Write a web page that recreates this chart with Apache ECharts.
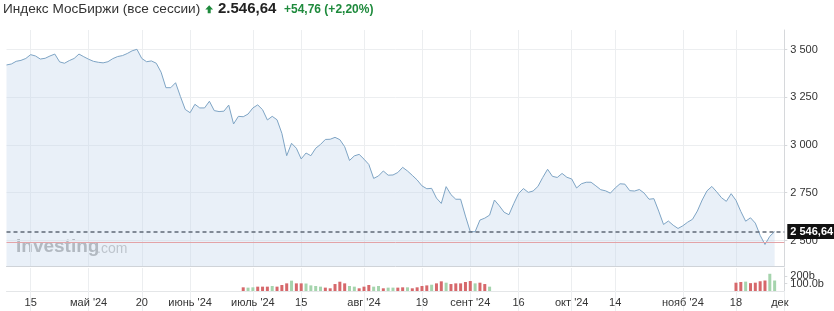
<!DOCTYPE html>
<html><head><meta charset="utf-8">
<script src="https://cdn.jsdelivr.net/npm/echarts@6/dist/echarts.min.js"></script>
<style>html,body{margin:0;padding:0;background:#fff;overflow:hidden}#c{width:834px;height:311px}</style>
</head><body><div id="c"></div>
<script>
// ---- trading days (categories) ----
const tradingDays = [
 ['2024-04', [8,9,10,11,12,15,16,17,18,19,22,23,24,25,26,29,30]],
 ['2024-05', [1,2,3,6,7,8,13,14,15,16,17,20,21,22,23,24,27,28,29,30,31]],
 ['2024-06', [3,4,5,6,7,10,11,13,14,17,18,19,20]],
 ['2024-07', [1,2,3,4,5,8,9,10,11,12,15,16,17,18,19,22,23,24,25,26,29,30,31]],
 ['2024-08', [1,2,5,6,7,8,9,12,13,14,15,16,19,20,21,22,23,26,27,28,29,30]],
 ['2024-09', [2,3,4,5,6,9,10,11,12,13,16,17,18,19,20,23,24,25,26,27,30]],
 ['2024-10', [1,2,3,4,7,8,9,10,11,14,15,16,17,18,21,22,23,24,25,28,29,30,31]],
 ['2024-11', [1,2,5,6,7,8,11,12,13,14,15,18,19,20,21,22,25,26,27,28,29]],
 ['2024-12', [2]]
];
const categories = [];
tradingDays.forEach(([m, ds]) => ds.forEach(d => categories.push(m + '-' + String(d).padStart(2, '0'))));

// ---- x tick labels ----
const tickDates  = ['2024-04-15','2024-05-01','2024-05-20','2024-06-03','2024-07-01','2024-07-15','2024-08-01','2024-08-19','2024-09-02','2024-09-16','2024-10-01','2024-10-14','2024-11-01','2024-11-18','2024-12-02'];
const tickLabels = ['15',"май '24",'20',"июнь '24","июль '24",'15',"авг '24",'19',"сент '24",'16',"окт '24",'14',"нояб '24",'18','дек'];

// ---- index close values ----
const closes = [
 3419,3424,3438,3443,3453,3473,3466,3450,3454,3466,
 3476,3435,3428,3442,3453,3476,3462,3449,3438,3433,
 3430,3436,3452,3463,3468,3479,3493,3501,3453,3436,
 3440,3428,3381,3300,3300,3326,3254,3186,3169,3213,
 3194,3194,3229,3180,3175,3177,3209,3110,3150,3148,
 3162,3194,3210,3185,3131,3150,3132,3061,2944,3009,
 2983,2927,2958,2944,2983,3003,3029,3030,3040,3028,
 2991,2919,2943,2951,2926,2898,2825,2838,2864,2842,
 2843,2856,2883,2864,2841,2817,2786,2771,2773,2722,
 2694,2782,2740,2716,2716,2628,2546,2546,2607,2617,
 2633,2712,2682,2648,2635,2693,2746,2772,2752,2759,
 2783,2830,2873,2836,2830,2851,2831,2822,2775,2797,
 2805,2805,2786,2766,2760,2748,2775,2797,2795,2761,
 2759,2767,2748,2716,2719,2654,2584,2602,2580,2563,
 2577,2596,2611,2654,2712,2760,2783,2755,2724,2705,
 2745,2710,2652,2601,2619,2591,2527,2479,2522,2546.64
];
const lastChange = 54.76;
const lastChangePct = 2.20;
const priceTicks = [2500, 2750, 3000, 3250, 3500];

// ---- volume (billions), 1 = up (green), -1 = down (red) ----
const volumes = [
 null,null,null,null,null,null,null,null,null,null,
 null,null,null,null,null,null,null,null,null,null,
 null,null,null,null,null,null,null,null,null,null,
 null,null,null,null,null,null,null,null,null,null,
 null,null,null,null,null,null,null,null,null,49,
 45,49,58,58,58,67,58,80,102,138,
 102,102,100,75,67,58,45,36,93,124,
 102,67,58,36,58,80,58,67,36,45,
 45,45,49,49,36,49,67,75,84,102,
 129,111,93,102,102,120,133,102,111,93,
 58,null,null,null,null,null,null,null,null,null,
 null,null,null,null,null,null,null,null,null,null,
 null,null,null,null,null,null,null,null,null,null,
 null,null,null,null,null,null,null,null,null,null,
 null,null,null,null,null,null,null,null,null,null,
 null,111,120,125,105,111,130,140,230,140,
 null,null
];
const volumeDir = [
 0,0,0,0,0,0,0,0,0,0,
 0,0,0,0,0,0,0,0,0,0,
 0,0,0,0,0,0,0,0,0,0,
 0,0,0,0,0,0,0,0,0,0,
 0,0,0,0,0,0,0,0,0,-1,
 1,1,-1,-1,-1,1,-1,-1,-1,1,
 -1,-1,1,1,1,1,-1,-1,-1,-1,
 -1,1,1,-1,-1,-1,1,1,-1,1,
 1,-1,-1,1,-1,-1,-1,-1,1,-1,
 -1,1,-1,-1,-1,-1,-1,1,-1,-1,
 1,0,0,0,0,0,0,0,0,0,
 0,0,0,0,0,0,0,0,0,0,
 0,0,0,0,0,0,0,0,0,0,
 0,0,0,0,0,0,0,0,0,0,
 0,0,0,0,0,0,0,0,0,0,
 0,-1,-1,1,-1,-1,-1,-1,1,1,
 0,0
];
const volumeTicks = [100, 200];
const volumeTickLabels = ['100.0b', '200b'];

// ---- helpers ----
const FONT = '"Liberation Sans", Arial, Helvetica, sans-serif';
const spaceThousands = s => s.replace(/\B(?=(\d{3})+(?!\d))/g, ' ');
const tickSet = new Set(tickDates);
const isTick = (i, v) => tickSet.has(categories[i]);
const last = closes[closes.length - 1];
const prevClose = +(last - lastChange).toFixed(2);
const fmtLast = spaceThousands(last.toFixed(2).split('.')[0]) + ',' + last.toFixed(2).split('.')[1];
const fmtTitle = last.toFixed(2).replace('.', ',').replace(/\B(?=(\d{3})+(?!\d),)/, '.');
const GREEN = '#1e8a3c';
// the two volume tick labels sit 8px apart; draw them as one two-line label centred between the ticks
const volLabelAt = (volumeTicks[0] + volumeTicks[1]) / 2;
const volLabelText = volumeTickLabels.slice().reverse().join('\n');

const chart = echarts.init(document.getElementById('c'), null, {renderer: 'canvas'});
const GL = 6.5, GR = 49.7;
chart.setOption({
  animation: false,
  backgroundColor: '#fff',
  textStyle: {fontFamily: FONT},
  grid: [
    {left: GL, right: GR, top: 30, height: 236, outerBoundsMode: 'none', containLabel: false},
    {left: GL, right: GR, top: 268, height: 23, outerBoundsMode: 'none', containLabel: false}
  ],
  xAxis: [
    {type: 'category', gridIndex: 0, data: categories, boundaryGap: false,
     axisLine: {show: true, lineStyle: {color: '#cfd3d8', width: 1}},
     axisTick: {show: false}, axisLabel: {show: false},
     splitLine: {show: true, interval: isTick, lineStyle: {color: '#eceef0', width: 1}}},
    {type: 'category', gridIndex: 1, data: categories, boundaryGap: false,
     axisLine: {show: true, lineStyle: {color: '#e4e6e8', width: 1}},
     axisTick: {show: true, interval: isTick, length: 20, lineStyle: {color: '#eceef0'}},
     axisLabel: {show: true, interval: isTick, margin: 6, color: '#333', fontSize: 11, fontFamily: FONT, hideOverlap: false,
       formatter: v => { const k = tickDates.indexOf(v); if (k < 0) return ''; return k === tickDates.length - 1 ? '{e|' + tickLabels[k] + '}' : tickLabels[k]; },
       rich: {e: {color: '#333', fontSize: 11, fontFamily: FONT, padding: [0, 9, 0, 0]}}},
     splitLine: {show: true, interval: isTick, lineStyle: {color: '#eceef0', width: 1}}}
  ],
  yAxis: [
    {type: 'value', gridIndex: 0, position: 'right', min: 2366.5, max: 3602, scale: true,
     axisLine: {show: true, lineStyle: {color: '#d6d8db'}},
     axisTick: {show: true, length: 3, customValues: priceTicks, lineStyle: {color: '#d6d8db'}},
     axisLabel: {show: true, customValues: priceTicks, margin: 6, color: '#333', fontSize: 11, fontFamily: FONT, hideOverlap: false,
       formatter: v => spaceThousands(String(v))},
     splitLine: {show: true, lineStyle: {color: '#eceef0', width: 1}}},
    {type: 'value', gridIndex: 1, position: 'right', min: 0, max: 307,
     axisLine: {show: true, lineStyle: {color: '#d6d8db'}},
     axisTick: {show: true, length: 3, customValues: volumeTicks, lineStyle: {color: '#d6d8db'}},
     axisLabel: {show: true, customValues: [volLabelAt], margin: 6, color: '#333', fontSize: 11, lineHeight: 8.5, fontFamily: FONT,
       hideOverlap: false, formatter: () => volLabelText},
     splitLine: {show: false}}
  ],
  series: [
    {type: 'line', xAxisIndex: 0, yAxisIndex: 0, data: closes, symbol: 'none', showSymbol: false,
     lineStyle: {color: '#7ea4c4', width: 1}, itemStyle: {color: '#7ea4c4'},
     areaStyle: {color: 'rgba(192,213,235,0.5)', origin: 'start'},
     markLine: {silent: true, symbol: 'none', animation: false,
       data: [
         {yAxis: last, lineStyle: {type: [4, 3], color: '#5f6876', width: 1.5},
          label: {show: true, position: 'end', distance: 3, formatter: fmtLast, color: '#fff', backgroundColor: '#111',
                  fontWeight: 'bold', fontSize: 11, fontFamily: FONT, padding: [2, 4, 2, 3]}},
         {yAxis: prevClose, lineStyle: {type: 'solid', color: '#e3a3a7', width: 1}, label: {show: false}}
       ]}},
    {type: 'bar', xAxisIndex: 1, yAxisIndex: 1, barWidth: 3,
     data: volumes.map((v, i) => v == null ? null : {value: v, itemStyle: {color: volumeDir[i] > 0 ? '#a5d4ad' : '#d6686b'}})}
  ],
  graphic: [
    {type: 'text', left: 3, top: 2, style: {text: 'Индекс МосБиржи (все сессии)', fill: '#333', font: '13.6px ' + FONT}},
    {type: 'polygon', shape: {points: [[209.2, 5.2], [205.3, 9.6], [207.7, 9.6], [207.7, 13.2], [210.7, 13.2], [210.7, 9.6], [213.1, 9.6]]}, style: {fill: GREEN}},
    {type: 'text', left: 218, top: 1, style: {text: fmtTitle, fill: '#222', font: 'bold 15px ' + FONT}},
    {type: 'text', left: 284, top: 4, style: {text: '+' + lastChange.toFixed(2).replace('.', ',') + ' (+' + lastChangePct.toFixed(2).replace('.', ',') + '%)', fill: GREEN, font: 'bold 12px ' + FONT}},
    {type: 'text', left: 16, top: 237, z: 0, style: {text: 'Investing', fill: '#ababab', font: 'bold 19px ' + FONT}},
    {type: 'text', left: 97, top: 242, z: 0, style: {text: '.com', fill: '#bdbdbd', font: '14px ' + FONT}}
  ]
});
</script>
</body></html>
